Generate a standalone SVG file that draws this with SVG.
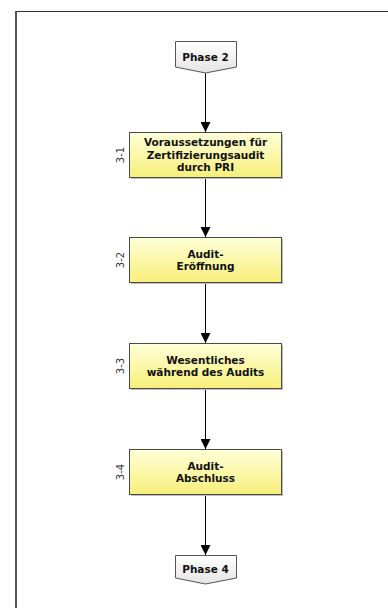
<svg xmlns="http://www.w3.org/2000/svg" width="388" height="608" viewBox="0 0 388 608">
  <defs>
    <linearGradient id="gYellow" x1="0" y1="0" x2="0" y2="1">
      <stop offset="0" stop-color="#ffffd8"/>
      <stop offset="1" stop-color="#f7ef7a"/>
    </linearGradient>
    <linearGradient id="gGray" x1="0" y1="0" x2="0" y2="1">
      <stop offset="0" stop-color="#ffffff"/>
      <stop offset="1" stop-color="#e4e4e4"/>
    </linearGradient>
    <marker id="arrow" viewBox="0 0 10 10" refX="10" refY="5" markerWidth="10" markerHeight="10" markerUnits="userSpaceOnUse" orient="auto">
      <path d="M0,0 L10,5 L0,10 z" fill="#000"/>
    </marker>
  </defs>
  <style>
    .box { fill: url(#gYellow); stroke: #4a4a4a; stroke-width: 1; }
    .shadow { fill: #bdbdbd; }
    .phase { fill: url(#gGray); stroke: #555; stroke-width: 1; }
    .t { font-family: "DejaVu Sans", Verdana, sans-serif; font-weight: bold; font-size: 10.5px; fill: #111; text-anchor: middle; }
    .id { font-family: "DejaVu Sans", Verdana, sans-serif; font-size: 10px; fill: #333; text-anchor: middle; }
    .conn { stroke: #000; stroke-width: 1; fill: none; marker-end: url(#arrow); }
  </style>

  <rect width="388" height="608" fill="#fff"/>
  <!-- page frame -->
  <line x1="16" y1="11.5" x2="388" y2="11.5" stroke="#333" stroke-width="1"/>
  <line x1="16" y1="11" x2="16" y2="608" stroke="#555" stroke-width="2"/>

  <g id="connectors">
    <line class="conn" x1="205.5" y1="73" x2="205.5" y2="132"/>
    <line class="conn" x1="205.5" y1="177" x2="205.5" y2="237"/>
    <line class="conn" x1="205.5" y1="282" x2="205.5" y2="343"/>
    <line class="conn" x1="205.5" y1="388" x2="205.5" y2="449"/>
    <line class="conn" x1="205.5" y1="494" x2="205.5" y2="555"/>
  </g>

  <g id="phase2">
    <path class="phase" d="M175.5,41.5 H236.5 V67 L205.5,73 L175.5,67 Z"/>
    <text class="t" x="205.5" y="61">Phase 2</text>
  </g>

  <g id="step3-1">
    <rect class="shadow" x="131" y="134" width="152" height="45"/>
    <rect class="box" x="129.5" y="132.5" width="152" height="45"/>
    <text class="t" x="205.5" y="146">Voraussetzungen für</text>
    <text class="t" x="205.5" y="158.5">Zertifizierungsaudit</text>
    <text class="t" x="205.5" y="171">durch PRI</text>
    <text class="id" transform="translate(124,155) rotate(-90)">3-1</text>
  </g>

  <g id="step3-2">
    <rect class="shadow" x="131" y="239" width="152" height="45"/>
    <rect class="box" x="129.5" y="237.5" width="152" height="45"/>
    <text class="t" x="205.5" y="257.5">Audit-</text>
    <text class="t" x="205.5" y="270">Eröffnung</text>
    <text class="id" transform="translate(124,260) rotate(-90)">3-2</text>
  </g>

  <g id="step3-3">
    <rect class="shadow" x="131" y="345" width="152" height="45"/>
    <rect class="box" x="129.5" y="343.5" width="152" height="45"/>
    <text class="t" x="205.5" y="363.5">Wesentliches</text>
    <text class="t" x="205.5" y="376">während des Audits</text>
    <text class="id" transform="translate(124,366) rotate(-90)">3-3</text>
  </g>

  <g id="step3-4">
    <rect class="shadow" x="131" y="451" width="152" height="45"/>
    <rect class="box" x="129.5" y="449.5" width="152" height="45"/>
    <text class="t" x="205.5" y="469.5">Audit-</text>
    <text class="t" x="205.5" y="482">Abschluss</text>
    <text class="id" transform="translate(124,472) rotate(-90)">3-4</text>
  </g>

  <g id="phase4">
    <path class="phase" d="M175.5,555.5 H236.5 V578 L205.5,584 L175.5,578 Z"/>
    <text class="t" x="205.5" y="573">Phase 4</text>
  </g>
</svg>
